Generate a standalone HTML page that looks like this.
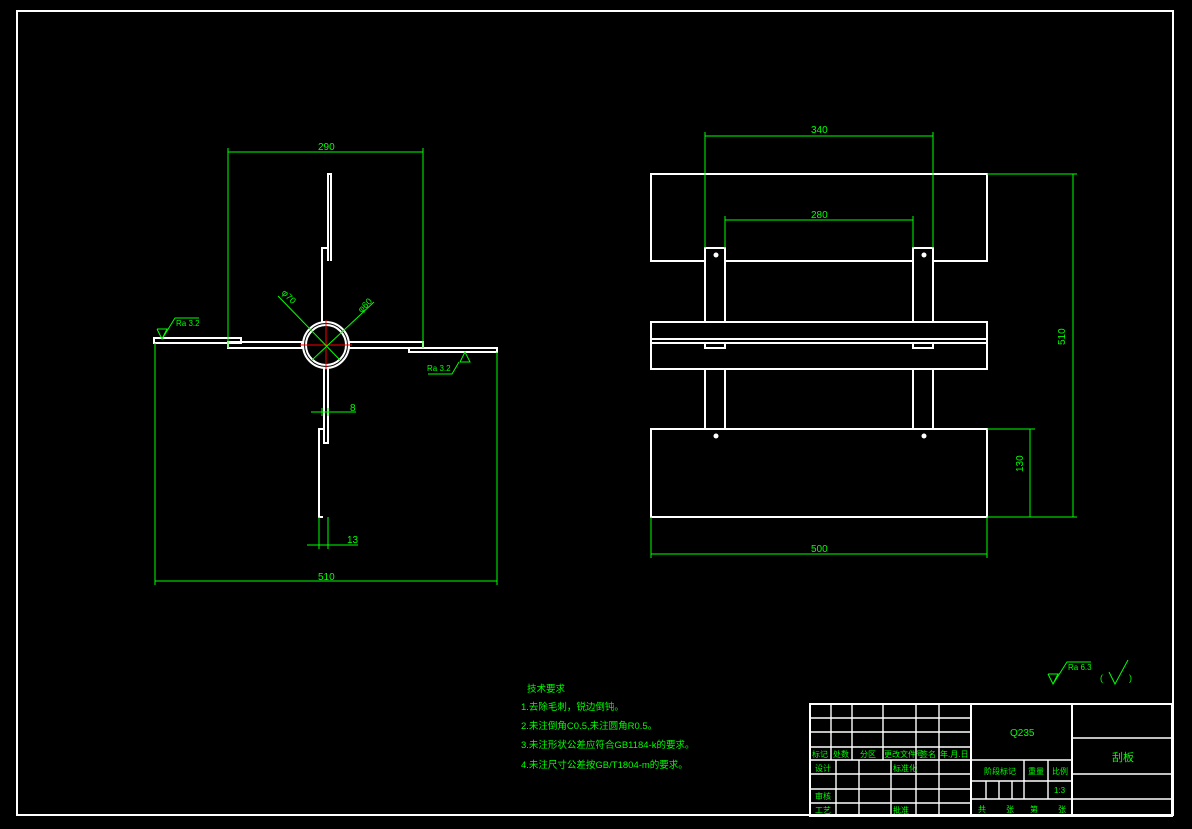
<!DOCTYPE html>
<html><head><meta charset="utf-8"><style>
html,body{margin:0;padding:0;background:#000;width:1192px;height:829px;overflow:hidden}
svg{display:block}
text{font-family:"Liberation Sans","Noto Sans CJK SC",sans-serif;fill:#0f0}
</style></head><body>
<svg width="1192" height="829" viewBox="0 0 1192 829" xmlns="http://www.w3.org/2000/svg">
<rect x="17" y="11" width="1156" height="804" fill="none" stroke="#fff" stroke-width="2"/>

<!-- LEFT VIEW -->
<g fill="none" stroke="#fff" stroke-width="2">
<polyline points="328,261 328,174 331,174 331,261"/>
<polyline points="327,322 322,322 322,248 327,248"/>
<rect x="154" y="338" width="87" height="5"/>
<rect x="228" y="342" width="74" height="6"/>
<rect x="349" y="342" width="74" height="6"/>
<rect x="409" y="348" width="88" height="4"/>
<polyline points="324,368 324,443 328,443 328,368"/>
<polyline points="323,429 319,429 319,517 323,517"/>
<circle cx="326" cy="345" r="23"/>
<circle cx="326" cy="345" r="20"/>
</g>
<g stroke="#f00" stroke-width="1"><line x1="300" y1="345" x2="352" y2="345"/><line x1="326" y1="320" x2="326" y2="370"/></g>
<g stroke="#0f0" stroke-width="1" fill="none">
<line x1="228" y1="148" x2="228" y2="348"/><line x1="423" y1="148" x2="423" y2="348"/><line x1="228" y1="152" x2="423" y2="152"/>
<line x1="278" y1="296" x2="340" y2="360"/><line x1="374" y1="302" x2="312" y2="360"/>
<line x1="155" y1="343" x2="155" y2="585"/><line x1="497" y1="352" x2="497" y2="585"/><line x1="155" y1="581" x2="497" y2="581"/>
<line x1="311" y1="412" x2="356" y2="412"/><line x1="322" y1="408" x2="322" y2="416"/><line x1="328" y1="408" x2="328" y2="416"/>
<line x1="307" y1="545" x2="358" y2="545"/><line x1="319" y1="517" x2="319" y2="549"/><line x1="328" y1="517" x2="328" y2="549"/>
<polyline points="157,329 162,339 167,329 157,329"/><polyline points="162,339 175,318 199,318"/>
<polyline points="460,362 465,352 470,362 460,362"/><polyline points="428,374 452,374 459,362"/>
</g>
<g font-size="10">
<text x="318" y="150">290</text><text x="318" y="580">510</text>
<text x="350" y="411">8</text><text x="347" y="543">13</text>
<text x="176" y="326" font-size="8">Ra 3.2</text><text x="427" y="371" font-size="8">Ra 3.2</text>
<text x="280" y="296" font-size="9" transform="rotate(45 284 296)">φ70</text>
<text x="356" y="312" font-size="9" transform="rotate(-45 360 306)">φ60</text>
</g>

<!-- RIGHT VIEW -->
<g fill="none" stroke="#fff" stroke-width="2">
<polyline points="705,261 651,261 651,174 987,174 987,261 933,261"/>
<line x1="725" y1="261" x2="913" y2="261"/>
<polyline points="705,322 705,248 725,248 725,322"/>
<polyline points="913,322 913,248 933,248 933,322"/>
<rect x="651" y="322" width="336" height="47"/>
<line x1="651" y1="339" x2="987" y2="339"/><line x1="651" y1="343" x2="987" y2="343"/>
<polyline points="705,343 705,348 725,348 725,343"/>
<polyline points="913,343 913,348 933,348 933,343"/>
<line x1="705" y1="369" x2="705" y2="429"/><line x1="725" y1="369" x2="725" y2="429"/>
<line x1="913" y1="369" x2="913" y2="429"/><line x1="933" y1="369" x2="933" y2="429"/>
<rect x="651" y="429" width="336" height="88"/>
</g>
<g fill="#fff"><circle cx="716" cy="255" r="2.5"/><circle cx="924" cy="255" r="2.5"/><circle cx="716" cy="436" r="2.5"/><circle cx="924" cy="436" r="2.5"/></g>
<g stroke="#0f0" stroke-width="1">
<line x1="705" y1="132" x2="705" y2="248"/><line x1="933" y1="132" x2="933" y2="248"/><line x1="705" y1="136" x2="933" y2="136"/>
<line x1="725" y1="216" x2="725" y2="248"/><line x1="913" y1="216" x2="913" y2="248"/><line x1="725" y1="220" x2="913" y2="220"/>
<line x1="987" y1="174" x2="1077" y2="174"/><line x1="987" y1="517" x2="1077" y2="517"/><line x1="1073" y1="174" x2="1073" y2="517"/>
<line x1="987" y1="429" x2="1035" y2="429"/><line x1="1030" y1="429" x2="1030" y2="517"/>
<line x1="651" y1="517" x2="651" y2="558"/><line x1="987" y1="517" x2="987" y2="558"/><line x1="651" y1="554" x2="987" y2="554"/>
</g>
<g font-size="10">
<text x="811" y="133">340</text><text x="811" y="218">280</text><text x="811" y="552">500</text>
<text x="1072" y="338" transform="rotate(-90 1072 345)">510</text>
<text x="1028" y="467" transform="rotate(-90 1028 472)">130</text>
</g>

<!-- NOTES -->
<g font-size="9.5">
<text x="527" y="692">技术要求</text>
<text x="521" y="710">1.去除毛刺，锐边倒钝。</text>
<text x="521" y="729">2.未注倒角C0.5,未注圆角R0.5。</text>
<text x="521" y="748">3.未注形状公差应符合GB1184-k的要求。</text>
<text x="521" y="768">4.未注尺寸公差按GB/T1804-m的要求。</text>
</g>
<g stroke="#0f0" stroke-width="1" fill="none">
<polyline points="1048,674 1053,684 1058,674 1048,674"/><polyline points="1053,684 1067,662 1091,662"/>
<polyline points="1109,672 1115,684 1128,660"/>
</g>
<text x="1068" y="670" font-size="8">Ra 6.3</text>
<text x="1100" y="681" font-size="9">(</text><text x="1129" y="681" font-size="9">)</text>

<!-- TITLE BLOCK -->
<g stroke="#fff" stroke-width="1.4" fill="none">
<rect x="810" y="704" width="362" height="112" stroke-width="2"/>
<line x1="971" y1="704" x2="971" y2="816" stroke-width="2"/><line x1="1072" y1="704" x2="1072" y2="816" stroke-width="2"/>
<line x1="810" y1="718" x2="971" y2="718"/><line x1="810" y1="732" x2="971" y2="732"/><line x1="810" y1="747" x2="971" y2="747"/>
<line x1="810" y1="760" x2="1072" y2="760"/><line x1="810" y1="774" x2="971" y2="774"/><line x1="810" y1="789" x2="971" y2="789"/><line x1="810" y1="803" x2="971" y2="803"/>
<line x1="831" y1="704" x2="831" y2="760"/><line x1="852" y1="704" x2="852" y2="760"/><line x1="883" y1="704" x2="883" y2="760"/>
<line x1="916" y1="704" x2="916" y2="816"/><line x1="939" y1="704" x2="939" y2="816"/>
<line x1="836" y1="760" x2="836" y2="816"/><line x1="859" y1="760" x2="859" y2="816"/><line x1="891" y1="760" x2="891" y2="816"/>
<line x1="971" y1="781" x2="1072" y2="781"/><line x1="971" y1="799" x2="1172" y2="799"/>
<line x1="1024" y1="760" x2="1024" y2="799"/><line x1="1048" y1="760" x2="1048" y2="799"/>
<line x1="986" y1="781" x2="986" y2="799"/><line x1="999" y1="781" x2="999" y2="799"/><line x1="1012" y1="781" x2="1012" y2="799"/>
<line x1="1072" y1="738" x2="1172" y2="738"/><line x1="1072" y1="774" x2="1172" y2="774"/>
</g>
<g font-size="8">
<text x="812" y="757">标记</text><text x="833" y="757">处数</text><text x="860" y="757">分区</text><text x="884" y="757">更改文件号</text><text x="920" y="757">签名</text><text x="940" y="757">年.月.日</text>
<text x="815" y="771">设计</text><text x="893" y="771">标准化</text><text x="815" y="799">审核</text><text x="815" y="813">工艺</text><text x="893" y="813">批准</text>
<text x="984" y="774">阶段标记</text><text x="1028" y="774">重量</text><text x="1052" y="774">比例</text><text x="1054" y="793">1:3</text>
<text x="978" y="812">共</text><text x="1006" y="812">张</text><text x="1030" y="812">第</text><text x="1058" y="812">张</text>
</g>
<text x="1010" y="736" font-size="10">Q235</text>
<text x="1112" y="761" font-size="11">刮板</text>
</svg>
</body></html>
